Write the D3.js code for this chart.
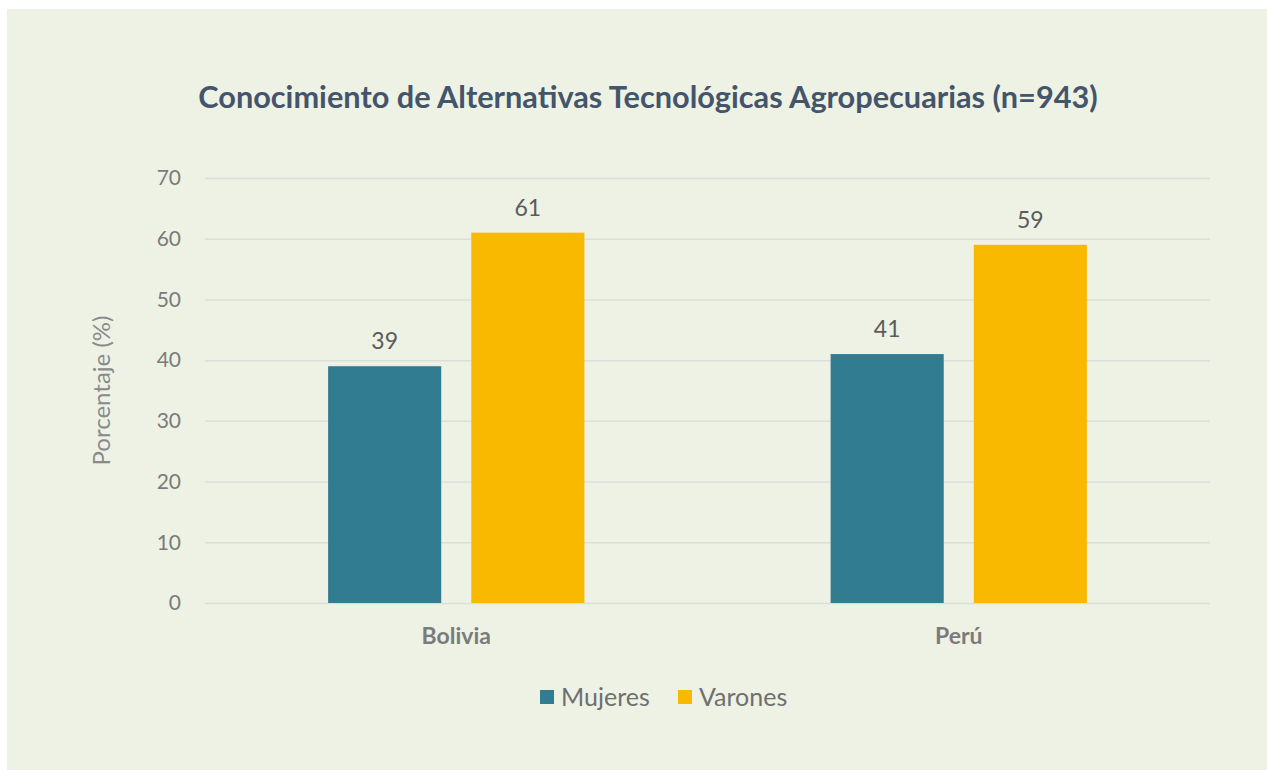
<!DOCTYPE html>
<html>
<head>
    <meta charset="utf-8">
    <title>Conocimiento de Alternativas Tecnológicas Agropecuarias</title>
    <script src="https://cdnjs.cloudflare.com/ajax/libs/d3/7.8.5/d3.min.js"></script>
    <style>
        body {
            margin: 0;
            background: #ffffff;
            font-family: Lato, "Open Sans", sans-serif;
        }
        svg { display: block; }
        svg text { font-family: Lato, "Open Sans", sans-serif; }
        .grid line { stroke: #dcdfd9; stroke-width: 1.5; }
        .grid path { display: none; }
        .y-axis text { fill: #7b7b7b; font-size: 21px; }
        .y-axis path, .y-axis line { display: none; }
        .x-axis text { fill: #7b7b7b; font-size: 23px; font-weight: bold; }
        .x-axis path, .x-axis line { display: none; }
        .bar-label { fill: #5b5b5b; font-size: 23px; }
        .legend-text { fill: #6f6f6f; font-size: 25px; }
    </style>
</head>
<body>
<div id="chart"></div>
<script>
// Data
const categories = ['Bolivia', 'Perú'];
const series = ['Mujeres', 'Varones'];
const mujeres = [39, 41];
const varones = [61, 59];
const yTicks = [0, 10, 20, 30, 40, 50, 60, 70];

const colors = { 'Mujeres': '#327c92', 'Varones': '#f8b900' };

// Setup
const W = 1267, H = 770;
const margin = { top: 178, right: 57, bottom: 167, left: 205 };
const width = W - margin.left - margin.right;
const height = H - margin.top - margin.bottom;

const svg = d3.select('#chart').append('svg')
    .attr('width', W)
    .attr('height', H);

// panel background
svg.append('rect')
    .attr('x', 7).attr('y', 9)
    .attr('width', W - 7).attr('height', H - 9)
    .attr('fill', '#edf2e5');

const g = svg.append('g')
    .attr('transform', `translate(${margin.left},${margin.top})`);

// Scales
const y = d3.scaleLinear().domain([0, 70]).range([height, 0]);
const x0 = d3.scaleBand().domain(categories).range([0, width])
    .paddingInner(0.49).paddingOuter(0.245);
const x1 = d3.scaleBand().domain(series).range([0, x0.bandwidth()])
    .paddingInner(0.21);

// Grid
g.append('g')
    .attr('class', 'grid')
    .call(d3.axisLeft(y).tickValues(yTicks).tickSize(-width).tickFormat(''));

// Y axis labels
g.append('g')
    .attr('class', 'y-axis')
    .attr('transform', 'translate(-24,0)')
    .call(d3.axisLeft(y).tickValues(yTicks).tickSize(0).tickPadding(0));

// X axis labels
g.append('g')
    .attr('class', 'x-axis')
    .attr('transform', `translate(0,${height})`)
    .call(d3.axisBottom(x0).tickSize(0).tickPadding(25));

// Bars
const rows = categories.map((c, i) => ({
    category: c,
    values: [
        { key: 'Mujeres', value: mujeres[i] },
        { key: 'Varones', value: varones[i] }
    ]
}));

const groups = g.selectAll('.cat')
    .data(rows)
    .enter().append('g')
    .attr('class', 'cat')
    .attr('transform', d => `translate(${x0(d.category)},0)`);

groups.selectAll('rect')
    .data(d => d.values)
    .enter().append('rect')
    .attr('x', d => x1(d.key))
    .attr('y', d => y(d.value))
    .attr('width', x1.bandwidth())
    .attr('height', d => height - y(d.value))
    .attr('fill', d => colors[d.key]);

groups.selectAll('.bar-label')
    .data(d => d.values)
    .enter().append('text')
    .attr('class', 'bar-label')
    .attr('text-anchor', 'middle')
    .attr('x', d => x1(d.key) + x1.bandwidth() / 2)
    .attr('y', d => y(d.value) - 17)
    .text(d => d.value);

// Y axis title
svg.append('text')
    .attr('transform', `translate(110,${margin.top + height / 2}) rotate(-90)`)
    .attr('text-anchor', 'middle')
    .attr('fill', '#8a8a8a')
    .style('font-size', '24px')
    .text('Porcentaje (%)');

// Title
const title = svg.append('text')
    .attr('x', 648)
    .attr('y', 108)
    .attr('text-anchor', 'middle')
    .attr('fill', '#44546a')
    .style('font-weight', 'bold')
    .style('font-size', '28px')
    .text('Conocimiento de Alternativas Tecnológicas Agropecuarias (n=943)');
// fit title to reference width
const tw = title.node().getComputedTextLength();
title.style('font-size', (28 * 899 / tw).toFixed(1) + 'px');

// Legend
const legend = svg.append('g').attr('transform', 'translate(540,690)');
const legendX = [0, 138];
series.forEach((s, i) => {
    const item = legend.append('g').attr('transform', `translate(${legendX[i]},0)`);
    item.append('rect')
        .attr('width', 14).attr('height', 14)
        .attr('fill', colors[s]);
    item.append('text')
        .attr('class', 'legend-text')
        .attr('x', 21).attr('y', 16)
        .text(s);
});
</script>
</body>
</html>
